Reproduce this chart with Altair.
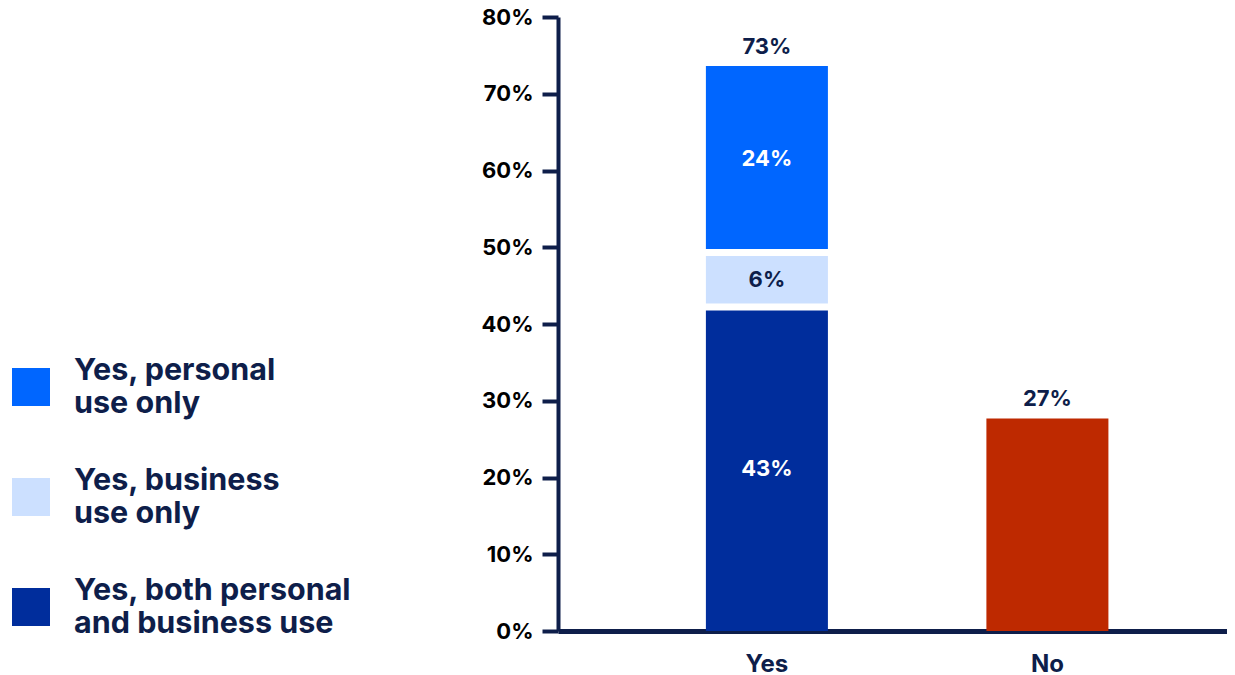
import altair as alt
import pandas as pd

# ---- data ----
categories = ["Yes", "No"]
segments = ["Yes, personal use only", "Yes, business use only", "Yes, both personal and business use"]
legend_lines = [["Yes, personal", "use only"], ["Yes, business", "use only"], ["Yes, both personal", "and business use"]]
yes_values = [24.3, 7.1, 42.2]          # bar heights as drawn
yes_stack_order = [3, 2, 1]             # 1 = bottom of stack
yes_labels = ["24%", "6%", "43%"]
no_value = 27.7
total_labels = ["73%", "27%"]
y_ticks = [0, 10, 20, 30, 40, 50, 60, 70, 80]

seg_colors = ["#0066ff", "#cce0ff", "#002d9c"]
no_color = "#be2900"
navy = "#0e1e4a"
FONT = "Inter"

df_yes = pd.DataFrame({
    "category": ["Yes"] * 3,
    "segment": segments,
    "value": yes_values,
    "order": yes_stack_order,
    "label": yes_labels,
})
df_no = pd.DataFrame({"category": ["No"], "value": [no_value]})
df_tot = pd.DataFrame({
    "category": categories,
    "total": [sum(yes_values), no_value],
    "label": total_labels,
})

xscale = alt.Scale(domain=categories, paddingInner=0.565, paddingOuter=0.475, align=0.555, round=False)
yscale = alt.Scale(domain=[0, 80], nice=False, zero=True)
xaxis = alt.Axis(title=None, ticks=False, labelAngle=0, labelPadding=21, labelFontSize=24,
                 labelFont=FONT, labelFontWeight="bold", labelColor=navy,
                 domainColor=navy, domainWidth=5, grid=False)
yaxis = alt.Axis(title=None, values=y_ticks, labelExpr="datum.value + '%'", labelFontSize=22,
                 labelFont=FONT, labelFontWeight="bold", labelColor="#000000", labelPadding=9,
                 domainColor=navy, domainWidth=4, tickColor=navy, tickWidth=4, tickSize=16, grid=False)

label_expr = " : ".join(
    f"datum.label == '{s}' ? {lines!r}" for s, lines in zip(segments[:-1], legend_lines[:-1])
) + f" : {legend_lines[-1]!r}"

legend = alt.Legend(
    title=None, orient="none", legendX=-546, legendY=351, direction="vertical",
    symbolType="square", symbolSize=1444, symbolStrokeWidth=0, symbolOpacity=1,
    labelFont=FONT, labelFontSize=30.5, labelFontWeight="bold", labelColor=navy,
    labelBaseline="line-bottom",
    labelExpr=label_expr, labelLimit=500, labelOffset=24, rowPadding=47, padding=0,
)

base_yes = alt.Chart(df_yes)

bars_yes = base_yes.mark_bar().encode(
    x=alt.X("category:N", scale=xscale, axis=xaxis, sort=categories),
    y=alt.Y("value:Q", stack="zero", scale=yscale, axis=yaxis),
    color=alt.Color("segment:N", scale=alt.Scale(domain=segments, range=seg_colors), legend=legend),
    order=alt.Order("order:Q", sort="ascending"),
)

stacked = base_yes.transform_stack(
    stack="value", groupby=["category"], as_=["y0", "y1"],
    sort=[alt.SortField("order", order="ascending")],
)

seps = stacked.transform_filter("datum.order < 3").mark_tick(
    color="white", thickness=7, size=132, opacity=1
).encode(
    x=alt.X("category:N", scale=xscale, axis=xaxis, sort=categories),
    y=alt.Y("y1:Q", scale=yscale, axis=yaxis),
)

seg_text = stacked.transform_calculate(mid="(datum.y0 + datum.y1) / 2").mark_text(
    font=FONT, fontSize=22, fontWeight="bold", baseline="middle"
).encode(
    x=alt.X("category:N", scale=xscale, axis=xaxis, sort=categories),
    y=alt.Y("mid:Q", scale=yscale, axis=yaxis),
    text="label:N",
    color=alt.condition("datum.order == 2", alt.value(navy), alt.value("white")),
)

bar_no = alt.Chart(df_no).mark_bar(color=no_color).encode(
    x=alt.X("category:N", scale=xscale, axis=xaxis, sort=categories),
    y=alt.Y("value:Q", scale=yscale, axis=yaxis),
)

tot_text = alt.Chart(df_tot).mark_text(
    font=FONT, fontSize=22, fontWeight="bold", baseline="alphabetic", dy=-12, color=navy
).encode(
    x=alt.X("category:N", scale=xscale, axis=xaxis, sort=categories),
    y=alt.Y("total:Q", scale=yscale, axis=yaxis),
    text="label:N",
)

chart = alt.layer(bars_yes, bar_no, seps, seg_text, tot_text).properties(
    width=669, height=614,
    background="white",
    autosize=alt.AutoSizeParams(type="none"),
    padding={"left": 550, "top": 9, "right": 0, "bottom": 44},
).configure_view(strokeWidth=0, stroke="transparent")

chart.save("out.html", embed_options={"renderer": "svg", "actions": False})
